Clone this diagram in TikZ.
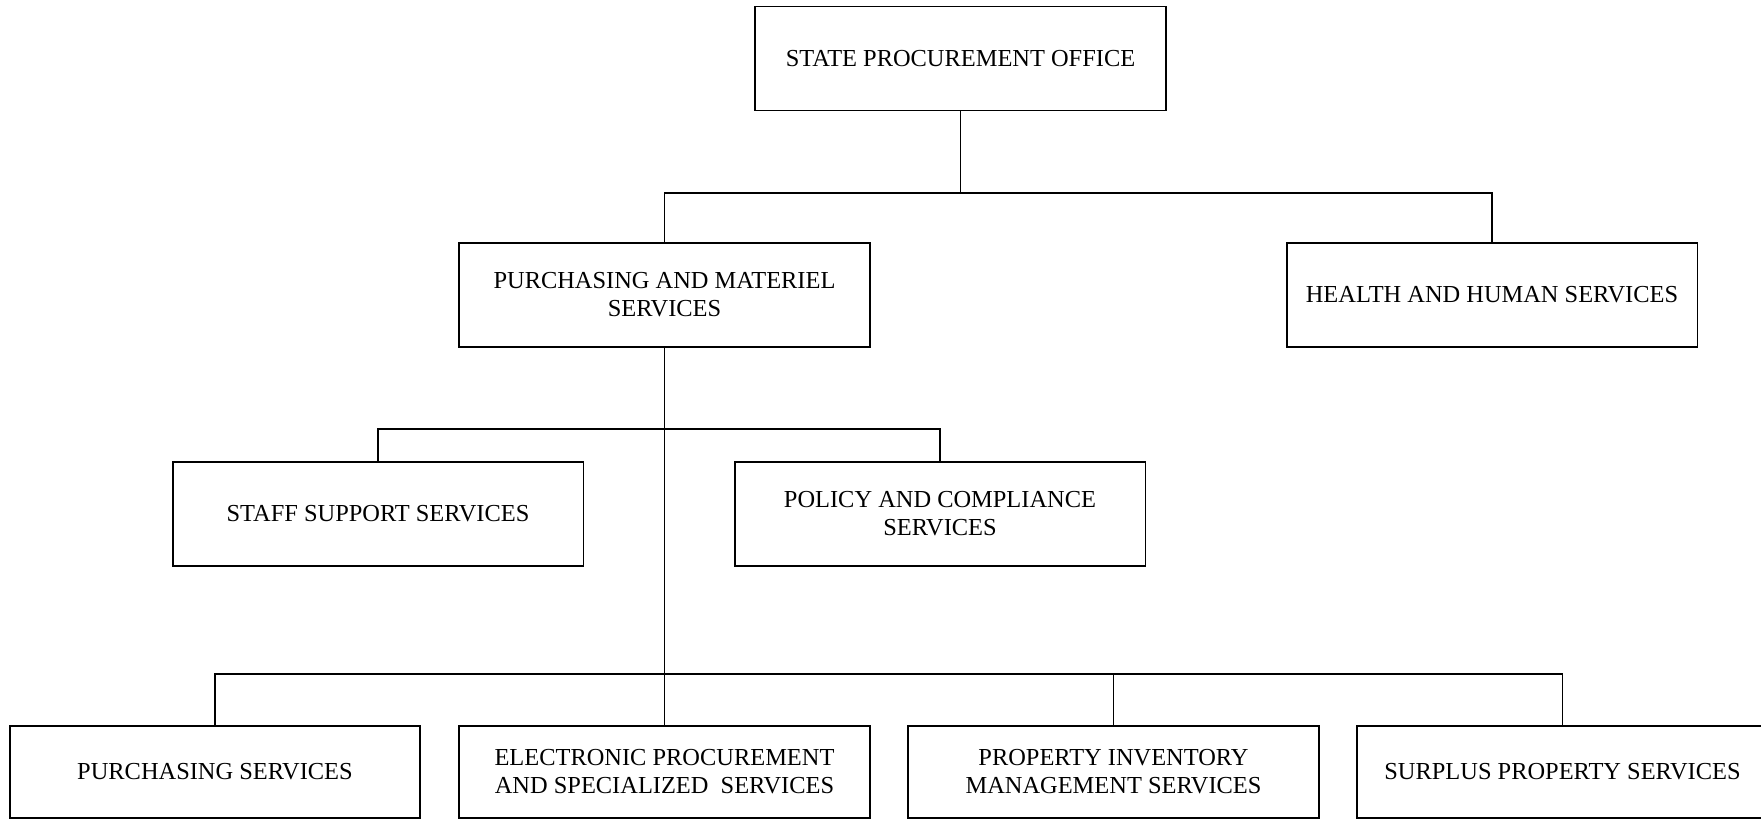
\documentclass[tikz,border=0pt]{standalone}
\usepackage{fontspec}
\setmainfont{Liberation Serif}

\begin{document}
\begin{tikzpicture}[
      x=0.02cm,y=0.02cm,
      unit/.style={draw, line width=1.1pt, minimum width=8.22cm, minimum height=2.08cm,
        align=center, inner sep=2pt, font=\fontsize{13.9pt}{16pt}\selectfont},
      lowunit/.style={unit, minimum height=1.84cm},
      link/.style={draw, line width=1.1pt}
    ]
      \useasboundingbox (0,0) rectangle (1761,820);
      \clip (0,0) rectangle (1761,820);
      % offices
      \node[unit] (spo) at (960.5,761.5) {STATE PROCUREMENT OFFICE};
      \node[unit] (pms) at (664.5,525) {PURCHASING AND MATERIEL\\SERVICES};
      \node[unit] (hhs) at (1492,525) {HEALTH AND HUMAN SERVICES};
      \node[unit] (sss) at (378,306) {STAFF SUPPORT SERVICES};
      \node[unit] (pcs) at (940,306) {POLICY AND COMPLIANCE\\SERVICES};
      \node[lowunit] (ps) at (215,48) {PURCHASING SERVICES};
      \node[lowunit] (eps) at (664.5,48) {ELECTRONIC PROCUREMENT\\AND SPECIALIZED\ \ SERVICES};
      \node[lowunit] (pims) at (1113.5,48) {PROPERTY INVENTORY\\MANAGEMENT SERVICES};
      \node[lowunit] (sps) at (1562.5,48) {SURPLUS PROPERTY SERVICES};
      % bus levels
      \coordinate (topbus) at (0,627);
      \coordinate (midbus) at (0,391);
      \coordinate (lowbus) at (0,146);
      \draw[link] (spo.south) -- (spo.south |- topbus);
      \draw[link] (pms.north) -- (pms.north |- topbus) -| (hhs.north);
      \draw[link] (pms.south) -- (eps.north);
      \draw[link] (sss.north) -- (sss.north |- midbus) -| (pcs.north);
      \draw[link] (ps.north) -- (ps.north |- lowbus) -| (sps.north);
      \draw[link] (pims.north) -- (pims.north |- lowbus);
    \end{tikzpicture}
\end{document}
